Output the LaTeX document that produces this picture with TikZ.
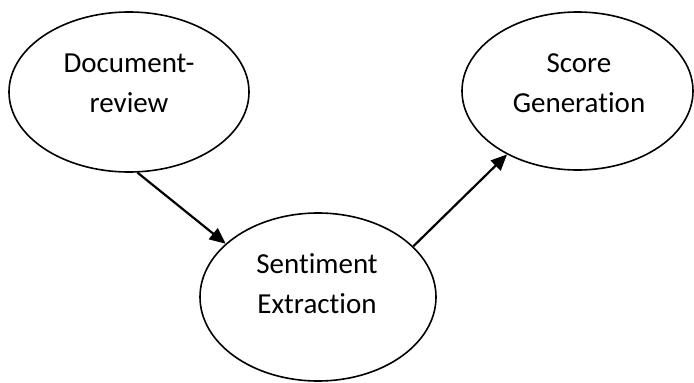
\documentclass[tikz,border=0pt]{standalone}
\usepackage{fontspec}
\setmainfont[RawFeature={-liga}]{Carlito}
\usetikzlibrary{arrows.meta,shapes.geometric}
\begin{document}
\begin{tikzpicture}[x=1pt,y=-1pt,
  oval/.style={draw=black,line width=1.6pt,ellipse,inner sep=0pt},
  lbl/.style={font=\fontsize{29}{40}\selectfont,anchor=base,inner sep=0pt},
  conn/.style={draw=black,line width=2.2pt,-{Triangle[length=16pt,width=14pt]}}]
\useasboundingbox (0,0) rectangle (694,383);
\node[oval,minimum width=240pt,minimum height=160pt] (doc) at (129,92) {};
\node[oval,minimum width=231pt,minimum height=158pt] (score) at (577.5,91) {};
\node[oval,minimum width=236pt,minimum height=168pt] (sent) at (318,297) {};
\node[lbl] (t1) at (129,72) {Document-};
\node[lbl] (t2) at (129,112) {review};
\node[lbl] (t3) at (579,72) {Score};
\node[lbl] (t4) at (579,112) {Generation};
\node[lbl] (t5) at (317,273) {Sentiment};
\node[lbl] (t6) at (317,313) {Extraction};
\draw[conn] (doc.-84) -- (sent.150);
\draw[conn] (sent.28) -- (score.222);
\end{tikzpicture}
\end{document}
